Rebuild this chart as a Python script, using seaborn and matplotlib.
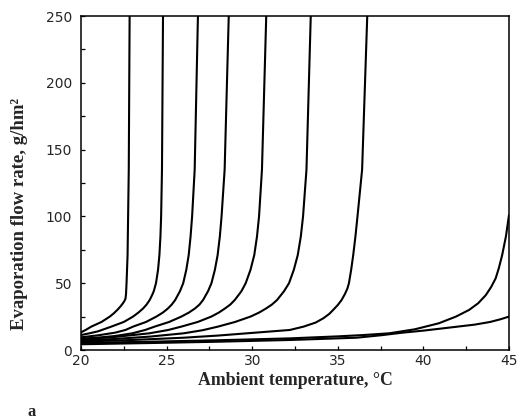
import matplotlib
matplotlib.use("Agg")
import matplotlib.pyplot as plt
import seaborn as sns
import pandas as pd
from matplotlib.ticker import MultipleLocator

# Ambient temperature (°C) and evaporation flow rate (g/hm²)
c1_t = [20, 20.3, 20.6, 21.2, 21.68, 21.92, 22.12, 22.3, 22.45, 22.55, 22.6, 22.63, 22.66, 22.72, 22.79, 22.84]
c1_e = [13.2, 15.2, 17.5, 21, 25, 27.5, 30, 32.5, 35, 37, 38.5, 42, 50, 71, 135, 250]

c2_t = [20, 20.5, 21, 21.77, 22.5, 23.04, 23.35, 23.62, 23.83, 24.01, 24.15, 24.25, 24.38, 24.5, 24.58, 24.64, 24.68, 24.73, 24.79]
c2_e = [11.2, 12.5, 14, 17.5, 21, 25, 28, 31, 34, 37.4, 41, 44, 50, 60, 71, 85, 100, 135, 250]

c3_t = [20, 21, 22, 22.6, 23.04, 23.8, 24.4, 24.78, 25.07, 25.3, 25.5, 25.78, 25.97, 26.15, 26.29, 26.4, 26.49, 26.64, 26.83]
c3_e = [9.5, 11, 13, 15, 17.5, 21, 25, 28, 31, 34, 37.4, 44, 50, 60, 71, 85, 100, 135, 250]

c4_t = [20, 21, 22, 23, 23.75, 24.3, 25.15, 25.86, 26.3, 26.65, 26.92, 27.13, 27.42, 27.62, 27.82, 27.98, 28.11, 28.21, 28.39, 28.63]
c4_e = [8.5, 9.3, 10.5, 12.5, 15, 17.5, 21, 25, 28, 31, 34, 37.4, 44, 50, 60, 71, 85, 100, 135, 250]

c5_t = [20, 22, 24, 25.1, 25.86, 26.82, 27.61, 28.05, 28.4, 28.72, 28.98, 29.37, 29.62, 29.9, 30.12, 30.28, 30.4, 30.57, 30.82]
c5_e = [7.7, 9.8, 12.5, 15, 17.5, 21, 25, 28, 31, 34, 37.4, 44, 50, 60, 71, 85, 100, 135, 250]

c6_t = [20, 22, 24, 26, 27.1, 28.0, 29.0, 29.9, 30.4, 30.8, 31.15, 31.45, 31.86, 32.15, 32.43, 32.66, 32.84, 32.97, 33.17, 33.42]
c6_e = [7, 8.3, 10, 12.5, 14.8, 17.5, 21, 25, 28, 31, 34, 37.4, 44, 50, 60, 71, 85, 100, 135, 250]

c7_t = [20, 23, 26, 28, 30, 32.2, 33.0, 33.7, 34.15, 34.5, 34.73, 35.0, 35.22, 35.42, 35.56, 35.65, 35.78, 35.9, 36.03, 36.15, 36.42, 36.72]
c7_e = [6.3, 7.5, 9.2, 10.8, 12.8, 15, 17.5, 20.5, 23.7, 27, 30, 33.7, 37.4, 42, 46, 50, 60, 71, 85, 100, 135, 250]

c8_t = [20, 24, 28, 32.2, 35, 36.5, 38, 39.5, 40.9, 41.9, 42.67, 43.2, 43.64, 43.95, 44.22, 44.4, 44.6, 44.82, 45]
c8_e = [5.3, 6.2, 7.3, 8.7, 10.2, 11.2, 12.5, 15.5, 20, 25, 30, 35, 41, 47, 53.6, 61, 71, 85, 101]

c9_t = [20, 24, 28, 32.2, 36.1, 37.5, 38.8, 40, 41, 42, 43, 43.9, 44.5, 45]
c9_e = [4.3, 5.2, 6.2, 7.5, 9.2, 11, 13, 14.5, 16, 17.5, 19, 21, 23, 25]

curves_t = [c1_t, c2_t, c3_t, c4_t, c5_t, c6_t, c7_t, c8_t, c9_t]
curves_e = [c1_e, c2_e, c3_e, c4_e, c5_e, c6_e, c7_e, c8_e, c9_e]

x_ticks = [20, 25, 30, 35, 40, 45]
y_ticks = [0, 50, 100, 150, 200, 250]

rows = []
for i, (ts, es) in enumerate(zip(curves_t, curves_e)):
    for k, (t, e) in enumerate(zip(ts, es)):
        rows.append({"curve": i, "order": k, "T": t, "E": e})
df = pd.DataFrame(rows)

sns.set_style("ticks")
plt.rcParams["font.family"] = ["DejaVu Sans"]

fig = plt.figure(figsize=(5.2, 4.2), dpi=100)
ax = fig.add_axes([81 / 520, 1 - 350 / 420, (509 - 81) / 520, (350 - 16) / 420])

sns.lineplot(data=df, x="T", y="E", units="curve", estimator=None, sort=False,
             color="black", linewidth=1.5, ax=ax)

ax.set_xlim(20, 45)
ax.set_ylim(0, 250)
ax.set_xticks(x_ticks)
ax.set_yticks(y_ticks)
ax.xaxis.set_minor_locator(MultipleLocator(2.5))
ax.yaxis.set_minor_locator(MultipleLocator(25))
ax.tick_params(which="both", direction="in", top=False, right=False,
               length=3, width=0.9, color="black")
ax.tick_params(axis="x", which="major", labelsize=10, pad=3)
ax.tick_params(axis="y", which="major", labelsize=10, pad=6.5)
for s in ax.spines.values():
    s.set_linewidth(1.1)
    s.set_color("black")

ax.set_xlabel("Ambient temperature, °C", family=["Liberation Serif"],
              fontweight="bold", fontsize=12.8, labelpad=3)
ax.set_ylabel("Evaporation flow rate, g/hm²", family=["Liberation Serif"],
              fontweight="bold", fontsize=13.5)
ax.yaxis.set_label_coords(-0.124, 0.407)

fig.text(28 / 520, 1 - 404 / 420, "a", family=["Liberation Serif"],
         fontweight="bold", fontsize=12, va="top", ha="left")

fig.savefig("out.png", dpi=100)
